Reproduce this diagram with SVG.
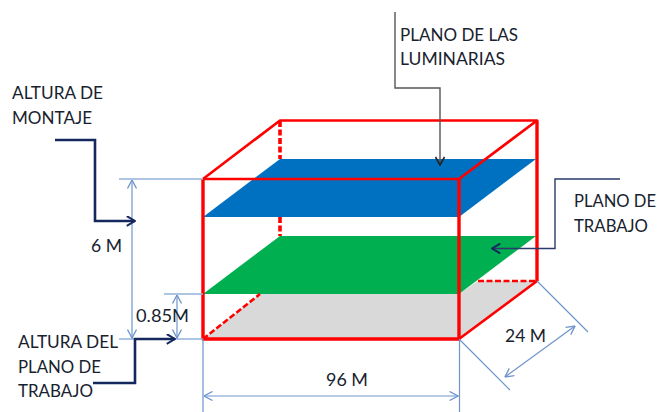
<svg xmlns="http://www.w3.org/2000/svg" width="660" height="412" viewBox="0 0 660 412">
<style>
text{font-family:"Lato","Liberation Sans",sans-serif;font-size:17.2px;fill:#18222e}
.dim{fill:none;stroke:#6f94cc;stroke-width:1.2}
.dimb{fill:none;stroke:#94b1da;stroke-width:1.6}
.lead{fill:none;stroke:#14285f;stroke-width:2.6}
.thin{fill:none;stroke:#2a3a6a;stroke-width:1.4}
.gry{fill:none;stroke:#555;stroke-width:1.4}
.red{fill:none;stroke:#f00;stroke-width:2.6;stroke-linejoin:round}
.redb{fill:none;stroke:#f00;stroke-width:3.4;stroke-linejoin:round}
.dash{fill:none;stroke:#f00;stroke-width:2.6;stroke-dasharray:6 2.5}
.dashb{fill:none;stroke:#f00;stroke-width:3.6;stroke-dasharray:6 2.5}
</style>
<defs>
<marker id="ab" viewBox="0 0 10 10" refX="9.5" refY="5" markerWidth="10" markerHeight="10" markerUnits="userSpaceOnUse" orient="auto-start-reverse"><path d="M1 0.5L9.500 5L1 9.500" fill="none" stroke="#6f94cc" stroke-width="1.3"/></marker>
<marker id="dk" viewBox="0 0 10 10" refX="9.5" refY="5" markerWidth="11" markerHeight="11" markerUnits="userSpaceOnUse" orient="auto"><path d="M2 0.5L9.500 5L2 9.500" fill="none" stroke="#14285f" stroke-width="1.8"/></marker>
<marker id="gk" viewBox="0 0 10 10" refX="9.5" refY="5" markerWidth="10" markerHeight="10" markerUnits="userSpaceOnUse" orient="auto"><path d="M1.500 0.5L9.500 5L1.500 9.500" fill="none" stroke="#222" stroke-width="1.6"/></marker>
</defs>
<g id="planes">
<polygon id="plano-suelo" fill="#d9d9d9" points="203,339 260,294 459,294 478,281 537,281 459,339"/>
<polygon id="plano-trabajo" fill="#00b050" points="280,236 536,236 459,294 203,294"/>
<polygon id="plano-luminarias" fill="#0070c0" points="280,159 536,159 459,217 203,217"/>
</g>
<g id="room">
<path class="dashb" d="M280 121V159M280 217V236"/>
<path class="dash" d="M478 281H536M203 339L260 294"/>
<path class="red" d="M203 179L280 120.500H537L459 179"/>
<path class="red" d="M203 179H459"/>
<path class="redb" d="M203 179V339H459V179M537 120.500V281"/>
<path class="red" d="M459 339L537 281"/>
</g>
<g id="connectors">
<path class="dimb" d="M119 179H203M119 339H203M164 294H203"/>
<path class="dimb" d="M132 180V338" marker-start="url(#ab)" marker-end="url(#ab)"/>
<path class="dimb" d="M177 295V338" marker-start="url(#ab)" marker-end="url(#ab)"/>
<path class="dim" d="M203 339V412M459.500 339V412M459 339L510 390M537 281L588 332"/>
<path class="dim" d="M204 396H458" marker-start="url(#ab)" marker-end="url(#ab)"/>
<path class="dim" d="M505 377L575 326" marker-start="url(#ab)" marker-end="url(#ab)"/>
<path class="lead" d="M55 140H95V221H135" marker-end="url(#dk)"/>
<path class="lead" d="M93 383H135V339H175" marker-end="url(#dk)"/>
<path class="thin" d="M620 179H555V248.500H492" marker-end="url(#dk)"/>
<path class="gry" d="M395 12V88H440V165" marker-end="url(#gk)"/>
</g>
<g id="labels">
<text x="12" y="99" textLength="91" lengthAdjust="spacingAndGlyphs">ALTURA DE</text>
<text x="12" y="124" textLength="80" lengthAdjust="spacingAndGlyphs">MONTAJE</text>
<text x="400" y="41" textLength="118" lengthAdjust="spacingAndGlyphs">PLANO DE LAS</text>
<text x="400" y="65" textLength="105" lengthAdjust="spacingAndGlyphs">LUMINARIAS</text>
<text x="574" y="207" textLength="82" lengthAdjust="spacingAndGlyphs">PLANO DE</text>
<text x="574" y="232" textLength="74" lengthAdjust="spacingAndGlyphs">TRABAJO</text>
<text x="91" y="252" textLength="31" lengthAdjust="spacingAndGlyphs">6 M</text>
<text x="136" y="322" textLength="53" lengthAdjust="spacingAndGlyphs">0.85M</text>
<text x="18" y="348" textLength="100" lengthAdjust="spacingAndGlyphs">ALTURA DEL</text>
<text x="18" y="373" textLength="83" lengthAdjust="spacingAndGlyphs">PLANO DE</text>
<text x="18" y="397" textLength="75" lengthAdjust="spacingAndGlyphs">TRABAJO</text>
<text x="326" y="386" textLength="42" lengthAdjust="spacingAndGlyphs">96 M</text>
<text x="505" y="342" textLength="41" lengthAdjust="spacingAndGlyphs">24 M</text>
</g>
</svg>
